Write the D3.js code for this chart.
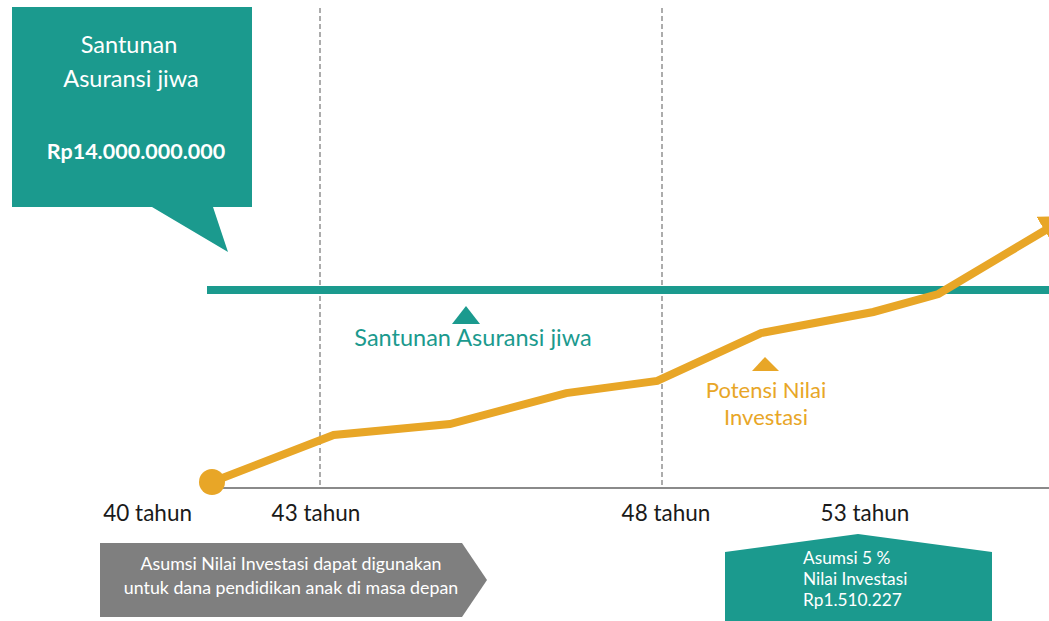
<!DOCTYPE html>
<html>
<head>
<meta charset="utf-8">
<script src="https://cdn.jsdelivr.net/npm/d3@7"></script>
<style>
  body { margin: 0; background: #fff; }
  svg { display: block; font-family: Lato, "Open Sans", sans-serif; }
</style>
</head>
<body>
<svg id="chart"></svg>
<script>
// data
const ages = [40, 43.2, 44.9, 46.6, 47.93, 49.28, 50.73, 51.57, 53];
const potensi = [2.3, 20.4, 24.6, 36.5, 41.2, 59.6, 67.7, 74.6, 100];
const santunanLevel = 76.2;
const markerAges = [43, 48];
const tickAges = [40, 43, 48, 53];
const tickLabels = ["40 tahun", "43 tahun", "48 tahun", "53 tahun"];
const calloutLines = ["Santunan", "Asuransi jiwa", "Rp14.000.000.000"];
const grayNote = ["Asumsi Nilai Investasi dapat digunakan", "untuk dana pendidikan anak di masa depan"];
const tealNote = ["Asumsi 5 %", "Nilai Investasi", "Rp1.510.227"];

const width = 1049, height = 621;
const teal = "#1b9a8e", orange = "#e8a627", gray = "#7f7f7f";

const svg = d3.select("#chart").attr("width", width).attr("height", height);

const x = d3.scaleLinear().domain([40, 43, 48, 53]).range([212, 320, 662, 1049]);
const y = d3.scaleLinear().domain([0, 100]).range([488, 228]);

// dashed guides
svg.selectAll(".guide")
  .data(markerAges)
  .enter()
  .append("line")
  .attr("class", "guide")
  .attr("x1", d => x(d)).attr("x2", d => x(d))
  .attr("y1", 8).attr("y2", y(0))
  .attr("stroke", "#808080")
  .attr("stroke-width", 1.3)
  .attr("stroke-dasharray", "5,3");

// axis line
svg.append("line")
  .attr("x1", x(40)).attr("x2", width)
  .attr("y1", y(0)).attr("y2", y(0))
  .attr("stroke", "#8a8a8a")
  .attr("stroke-width", 2);

// tick labels
const tickDx = [-20, -4, 4, -184];
const tickAnchor = ["end", "middle", "middle", "middle"];
svg.selectAll(".tick-label")
  .data(tickAges)
  .enter()
  .append("text")
  .attr("class", "tick-label")
  .attr("x", (d, i) => x(d) + tickDx[i])
  .attr("y", 521)
  .attr("text-anchor", (d, i) => tickAnchor[i])
  .attr("font-size", 22.5)
  .attr("fill", "#1a1a1a")
  .text((d, i) => tickLabels[i]);

// santunan line
svg.append("line")
  .attr("x1", 207).attr("x2", width)
  .attr("y1", y(santunanLevel)).attr("y2", y(santunanLevel))
  .attr("stroke", teal)
  .attr("stroke-width", 8);

// arrow marker
svg.append("defs").append("marker")
  .attr("id", "arrow")
  .attr("markerUnits", "userSpaceOnUse")
  .attr("viewBox", "0 -16 28 32")
  .attr("markerWidth", 28).attr("markerHeight", 32)
  .attr("refX", 5).attr("refY", 0)
  .attr("orient", "auto")
  .append("path")
  .attr("d", "M0,-16L28,0L0,16Z")
  .attr("fill", orange);

const line = d3.line()
  .x((d, i) => x(ages[i]))
  .y(d => y(d));

svg.append("path")
  .datum(potensi)
  .attr("d", line)
  .attr("fill", "none")
  .attr("stroke", orange)
  .attr("stroke-width", 8)
  .attr("stroke-linejoin", "miter")
  .attr("marker-end", "url(#arrow)");

svg.append("circle")
  .attr("cx", x(ages[0]))
  .attr("cy", y(potensi[0]))
  .attr("r", 13)
  .attr("fill", orange);

// labels for the two lines
svg.append("path")
  .attr("d", "M466,306L480,324L452,324Z")
  .attr("fill", teal);
svg.append("text")
  .attr("x", 473).attr("y", 346)
  .attr("text-anchor", "middle")
  .attr("font-size", 23.5)
  .attr("fill", teal)
  .text("Santunan Asuransi jiwa");

svg.append("path")
  .attr("d", "M765,357L779,371L752,371Z")
  .attr("fill", orange);
svg.selectAll(".potensi-label")
  .data(["Potensi Nilai", "Investasi"])
  .enter()
  .append("text")
  .attr("class", "potensi-label")
  .attr("x", 766)
  .attr("y", (d, i) => 398 + i * 27)
  .attr("text-anchor", "middle")
  .attr("font-size", 22)
  .attr("fill", orange)
  .text(d => d);

// top-left callout
svg.append("path")
  .attr("d", "M12,7H252V207H213L228,252L152,207H12Z")
  .attr("fill", teal);
svg.selectAll(".callout")
  .data(calloutLines)
  .enter()
  .append("text")
  .attr("class", "callout")
  .attr("x", (d, i) => [129, 131, 136][i])
  .attr("y", (d, i) => [53, 87, 159][i])
  .attr("text-anchor", "middle")
  .attr("font-size", (d, i) => i === 2 ? 21.5 : 23.5)
  .attr("font-weight", (d, i) => i === 2 ? "bold" : "normal")
  .attr("fill", "#fff")
  .text(d => d);

// gray arrow note
svg.append("path")
  .attr("d", "M100,543H462L487,580L462,617H100Z")
  .attr("fill", gray);
svg.selectAll(".gray-note")
  .data(grayNote)
  .enter()
  .append("text")
  .attr("class", "gray-note")
  .attr("x", 291)
  .attr("y", (d, i) => 570 + i * 24)
  .attr("text-anchor", "middle")
  .attr("font-size", 17.8)
  .attr("fill", "#fff")
  .text(d => d);

// teal note bottom-right
svg.append("path")
  .attr("d", "M725,552L858,534L992,552V621H725Z")
  .attr("fill", teal);
svg.selectAll(".teal-note")
  .data(tealNote)
  .enter()
  .append("text")
  .attr("class", "teal-note")
  .attr("x", 803)
  .attr("y", (d, i) => 564 + i * 21)
  .attr("font-size", 17.3)
  .attr("fill", "#fff")
  .text(d => d);
</script>
</body>
</html>
